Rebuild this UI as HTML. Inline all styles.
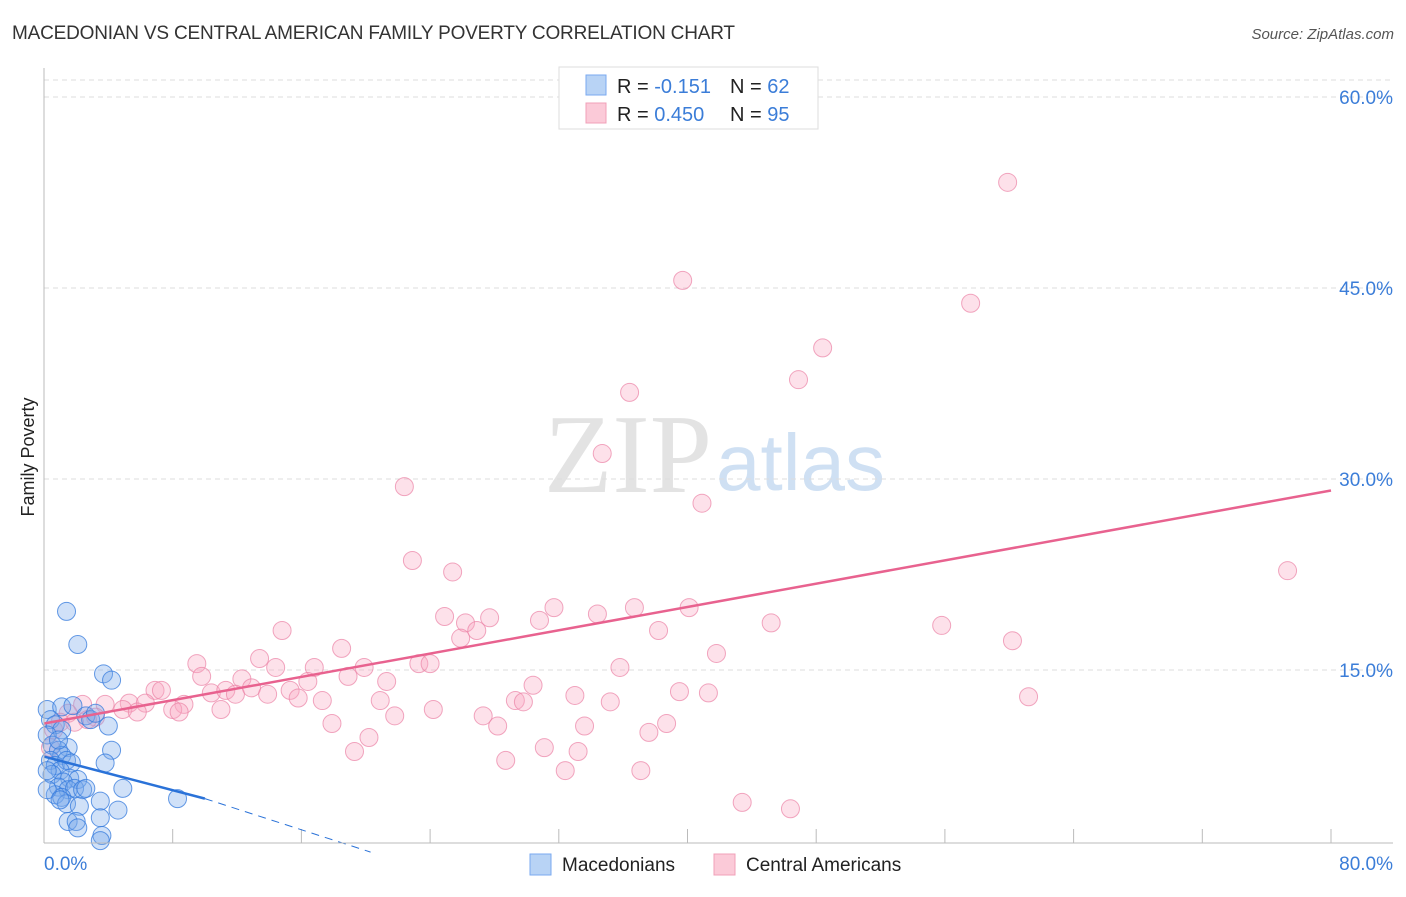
<!DOCTYPE html>
<html><head><meta charset="utf-8"><style>
body{margin:0;background:#fff;font-family:"Liberation Sans",sans-serif}
</style></head><body>
<svg id="c" width="1406" height="892" xmlns="http://www.w3.org/2000/svg">
<text x="12" y="39" font-size="19" fill="#333" textLength="723">MACEDONIAN VS CENTRAL AMERICAN FAMILY POVERTY CORRELATION CHART</text>
<text x="1394" y="39" font-size="15" fill="#555" font-style="italic" text-anchor="end">Source: ZipAtlas.com</text>
<text x="712" y="492" font-size="112" fill="#e3e3e3" font-family="Liberation Serif,serif" text-anchor="end">ZIP</text>
<text x="716" y="490" font-size="80" fill="#cfe0f3">atlas</text>
<text transform="translate(34,457) rotate(-90)" font-size="18" fill="#222" text-anchor="middle">Family Poverty</text>
<g id="grid"></g><g id="pts"></g><g id="lines"></g>
<line x1="44" y1="68" x2="44" y2="843" stroke="#bbb"/>
<line x1="44" y1="843" x2="1393" y2="843" stroke="#bbb"/>
<text x="44" y="870" font-size="19" fill="#3b7dd8">0.0%</text>
<text x="1393" y="870" font-size="19" fill="#3b7dd8" text-anchor="end">80.0%</text>
<g>
<rect x="559" y="67" width="259" height="62" fill="#fff" stroke="#ddd"/>
<rect x="586" y="75" width="20" height="20" fill="#b8d3f5" stroke="#7aaaf0"/>
<rect x="586" y="103" width="20" height="20" fill="#fbcad8" stroke="#f0a0b8"/>
<text x="617" y="93" font-size="20" fill="#222">R = <tspan fill="#3b7dd8">-0.151</tspan><tspan x="730">N = </tspan><tspan fill="#3b7dd8">62</tspan></text>
<text x="617" y="121" font-size="20" fill="#222">R = <tspan fill="#3b7dd8">0.450</tspan><tspan x="730">N = </tspan><tspan fill="#3b7dd8">95</tspan></text>
</g>
<g>
<rect x="530" y="854" width="21" height="21" fill="#b8d3f5" stroke="#7aaaf0"/>
<text x="562" y="871" font-size="19" fill="#222">Macedonians</text>
<rect x="714" y="854" width="21" height="21" fill="#fbcad8" stroke="#f0a0b8"/>
<text x="746" y="871" font-size="19" fill="#222">Central Americans</text>
</g>
</svg>
<script>
const yTicks=[15,30,45,60];
const xTicks=[0,8,16,24,32,40,48,56,64,72,80];
const pinkX=[59.9,39.7,57.6,48.4,46.9,36.4,34.7,22.4,40.9,77.3,22.9,25.4,24.9,31.7,26.2,27.7,34.4,36.7,40.1,30.8,25.9,26.9,38.2,45.2,55.8,60.2,14.8,18.5,41.8,9.5,13.4,14.4,16.8,19.9,23.3,24.0,35.8,9.8,12.3,16.4,18.9,21.3,6.9,7.3,10.4,11.3,11.9,12.9,13.9,15.3,15.8,17.3,20.9,30.4,29.3,29.8,33.0,35.2,39.5,41.3,61.2,5.3,6.3,8.7,3.8,4.9,5.8,8.0,11.0,8.4,24.2,27.3,21.8,2.4,1.5,3.2,1.0,1.9,2.7,17.9,28.2,33.6,38.7,37.6,0.6,20.2,31.1,19.3,33.2,28.7,32.4,37.1,43.4,46.4,0.4];
const pinkY=[53.3,45.6,43.8,40.3,37.8,36.8,32.0,29.4,28.1,22.8,23.6,22.7,19.2,19.9,18.7,19.1,19.4,19.9,19.9,18.9,17.5,18.1,18.1,18.7,18.5,17.3,18.1,16.7,16.3,15.5,15.9,15.2,15.2,15.2,15.5,15.5,15.2,14.5,14.3,14.1,14.5,14.1,13.4,13.4,13.2,13.4,13.1,13.6,13.1,13.4,12.8,12.6,12.6,13.8,12.6,12.5,13.0,12.5,13.3,13.2,12.9,12.4,12.4,12.3,12.3,11.9,11.7,11.9,11.9,11.7,11.9,11.4,11.4,12.3,11.6,11.3,10.9,10.9,11.1,10.8,10.6,10.6,10.8,10.1,10.3,9.7,8.9,8.6,8.6,7.9,7.1,7.1,4.6,4.1,8.9];
const blueX=[1.4,2.1,3.7,4.2,0.2,1.1,1.8,2.6,2.9,4.0,0.4,0.7,1.1,0.2,4.2,1.5,0.5,0.9,1.1,0.4,0.7,1.4,1.7,3.8,1.0,0.5,1.6,2.1,1.2,0.9,1.5,1.9,2.4,2.6,0.7,1.1,4.9,3.5,8.3,1.4,2.2,4.6,1.5,2.0,3.5,2.1,3.6,3.5,0.2,0.2,0.9,3.2,1.0];
const blueY=[19.6,17.0,14.7,14.2,11.9,12.1,12.2,11.4,11.1,10.6,11.1,10.7,10.3,9.9,8.7,8.9,9.1,8.7,8.3,7.9,7.5,7.9,7.7,7.7,7.1,6.8,6.5,6.4,6.2,5.8,5.6,5.7,5.6,5.7,5.2,5.0,5.7,4.7,4.9,4.5,4.3,4.0,3.1,3.1,3.4,2.6,2.0,1.6,5.6,7.1,9.5,11.6,4.8];
const pinkTrendX=[0,80], pinkTrendY=[10.8,29.1];
const blueTrendX=[0,10], blueTrendY=[8.2,4.9];
const blueDashX=[10,20.3], blueDashY=[4.9,0.7];
const sx=v=>44+v/80*1287, sy=v=>861-v/15*191;
const NS="http://www.w3.org/2000/svg";
function mk(t,a,p){const e=document.createElementNS(NS,t);for(const k in a)e.setAttribute(k,a[k]);p.appendChild(e);return e;}
const grid=document.getElementById('grid'),pts=document.getElementById('pts'),lines=document.getElementById('lines');
let g=mk('line',{x1:44,x2:1393,y1:80,y2:80,stroke:'#ddd','stroke-dasharray':'5,4'},grid);


yTicks.forEach(v=>{
 const l=mk('line',{x1:44,x2:1393,y1:sy(v),y2:sy(v),stroke:'#ddd','stroke-dasharray':'5,4'},grid);
 
 
 const t=mk('text',{x:1393,y:sy(v)+7,'font-size':19,fill:'#3b7dd8','text-anchor':'end'},grid);
 t.textContent=v.toFixed(1)+'%';
 
 
});
xTicks.slice(1).forEach(v=>{
 const l=mk('line',{x1:sx(v),x2:sx(v),y1:829,y2:843,stroke:'#bbb'},grid);
 
 
});
pinkX.forEach((x,i)=>{
 const c=mk('circle',{cx:sx(x),cy:sy(pinkY[i]),r:9,fill:'rgba(248,170,195,0.35)',stroke:'rgba(235,130,165,0.7)','stroke-width':1},pts);
 
 
});
blueX.forEach((x,i)=>{
 const c=mk('circle',{cx:sx(x),cy:sy(blueY[i]),r:9,fill:'rgba(120,170,235,0.35)',stroke:'rgba(50,120,220,0.75)','stroke-width':1},pts);
 
 
});
let l1=mk('line',{x1:sx(pinkTrendX[0]),y1:sy(pinkTrendY[0]),x2:sx(pinkTrendX[1]),y2:sy(pinkTrendY[1]),stroke:'#e8628f','stroke-width':2.5},lines);


let l2=mk('line',{x1:sx(blueTrendX[0]),y1:sy(blueTrendY[0]),x2:sx(blueTrendX[1]),y2:sy(blueTrendY[1]),stroke:'#2a72d8','stroke-width':2.5},lines);


let l3=mk('line',{x1:sx(blueDashX[0]),y1:sy(blueDashY[0]),x2:sx(blueDashX[1]),y2:sy(blueDashY[1]),stroke:'#2a72d8','stroke-width':1,'stroke-dasharray':'8,6'},lines);


</script>
</body></html>
